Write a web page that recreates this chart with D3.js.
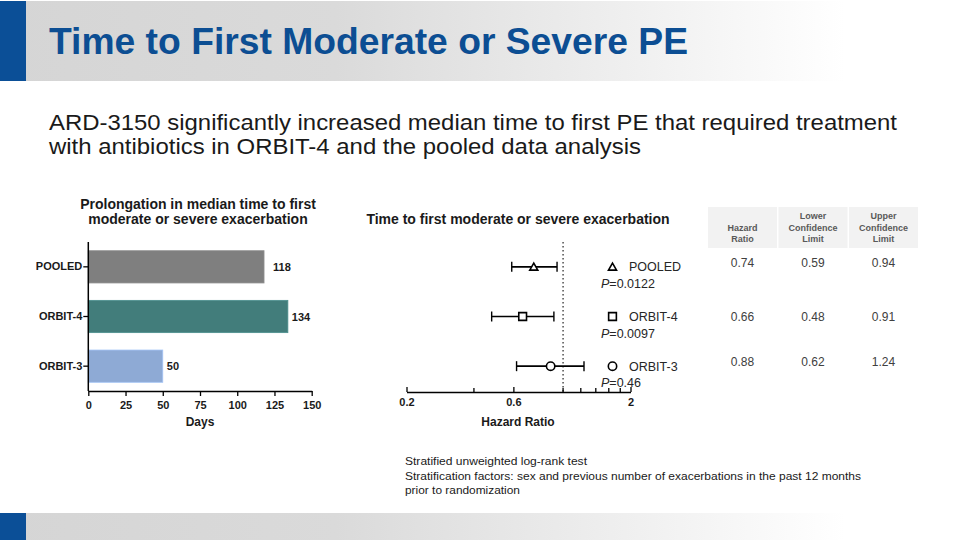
<!DOCTYPE html>
<html><head><meta charset="utf-8">
<script src="https://cdn.jsdelivr.net/npm/d3@7"></script>
<style>
html,body{margin:0;padding:0;background:#fff;}
text{font-family:"Liberation Sans",Arial,sans-serif;}
</style></head>
<body><svg id="c" width="960" height="540"></svg>
<script>
// ---- data ----
const titleText = "Time to First Moderate or Severe PE";
const subtitleLines = ["ARD-3150 significantly increased median time to first PE that required treatment",
  "with antibiotics in ORBIT-4 and the pooled data analysis"];
const categories = ["POOLED", "ORBIT-4", "ORBIT-3"];
const prolongDays = [118, 134, 50];
const barColors = ["#7f7f7f", "#427d7b", "#8eaad5"];
const dayTicks = [0, 25, 50, 75, 100, 125, 150];
const hazardRatio = [0.74, 0.66, 0.88];
const lowerCL = [0.59, 0.48, 0.62];
const upperCL = [0.94, 0.91, 1.24];
const pValues = ["0.0122", "0.0097", "0.46"];
const markers = ["triangle", "square", "circle"];
const hrMajorTicks = [0.2, 0.6, 2];
const hrMinorTicks = [0.4, 1, 1.2, 1.4, 1.6, 1.8];
const tableHeaders = [["Hazard", "Ratio"], ["Lower", "Confidence", "Limit"], ["Upper", "Confidence", "Limit"]];
const footnotes = ["Stratified unweighted log-rank test",
  "Stratification factors: sex and previous number of exacerbations in the past 12 months",
  "prior to randomization"];

const svg = d3.select("#c");
const defs = svg.append("defs");
const g1 = defs.append("linearGradient").attr("id","hdr").attr("x1","0").attr("x2","1").attr("y1","0").attr("y2","0");
g1.append("stop").attr("offset","0").attr("stop-color","#d5d5d5");
g1.append("stop").attr("offset","0.35").attr("stop-color","#dadada");
g1.append("stop").attr("offset","0.88").attr("stop-color","#ffffff");

// header band
svg.append("rect").attr("x",0).attr("y",1).attr("width",960).attr("height",80).attr("fill","url(#hdr)");
svg.append("rect").attr("x",0).attr("y",1).attr("width",26).attr("height",80).attr("fill","#0b4f97");
// footer band
svg.append("rect").attr("x",0).attr("y",513).attr("width",960).attr("height",27).attr("fill","url(#hdr)");
svg.append("rect").attr("x",0).attr("y",513).attr("width",26).attr("height",27).attr("fill","#0b4f97");

svg.append("text").attr("x",49).attr("y",54).attr("font-size",37).attr("font-weight","bold")
  .style("font-family",'"Liberation Sans Narrow","Liberation Sans",Arial,sans-serif')
  .attr("fill","#0c4e93").attr("textLength",639).attr("lengthAdjust","spacingAndGlyphs").text(titleText);

const subW = [848, 592];
subtitleLines.forEach((s,i)=>{
  svg.append("text").attr("x",49).attr("y",130+i*24).attr("font-size",21.5).attr("fill","#1a1a1a")
    .attr("textLength",subW[i]).attr("lengthAdjust","spacingAndGlyphs").text(s);
});

// ---- bar chart ----
const x = d3.scaleLinear().domain([0,150]).range([88.3,311.7]);
const y = d3.scaleBand().domain(categories).range([242,391]).paddingInner(0.35).paddingOuter(0.175);

svg.append("text").attr("x",198).attr("y",209).attr("text-anchor","middle").attr("font-size",14).attr("font-weight","bold").attr("fill","#1a1a1a").text("Prolongation in median time to first");
svg.append("text").attr("x",198).attr("y",224).attr("text-anchor","middle").attr("font-size",14).attr("font-weight","bold").attr("fill","#1a1a1a").text("moderate or severe exacerbation");

svg.append("g").selectAll("rect").data(categories).join("rect")
  .attr("x",x(0)).attr("y",d=>y(d)).attr("width",(d,i)=>x(prolongDays[i])-x(0)).attr("height",y.bandwidth())
  .attr("fill",(d,i)=>barColors[i]).attr("stroke",(d,i)=>d3.color(barColors[i]).brighter(0.4)).attr("stroke-width",0.8);

svg.append("g").selectAll("text").data(categories).join("text")
  .attr("x",(d,i)=>x(prolongDays[i])+ (i===0?9:4)).attr("y",d=>y(d)+y.bandwidth()/2+4)
  .attr("font-size",11).attr("font-weight","bold").attr("fill","#1a1a1a").text((d,i)=>prolongDays[i]);

const xa = svg.append("g").attr("transform","translate(0,391)")
  .call(d3.axisBottom(x).tickValues(dayTicks).tickSize(5).tickSizeOuter(0));
xa.select(".domain").attr("stroke","#000").attr("stroke-width",1.5);
xa.selectAll(".tick line").attr("stroke","#000").attr("stroke-width",1.3);
xa.selectAll(".tick text").attr("font-size",11).attr("font-weight","bold").attr("fill","#1a1a1a").attr("dy","0.9em").style("font-family",'"Liberation Sans",Arial,sans-serif');

const ya = svg.append("g").attr("transform","translate(88.3,0)")
  .call(d3.axisLeft(y).tickSize(5).tickSizeOuter(0));
ya.select(".domain").attr("stroke","#000").attr("stroke-width",1.5).attr("d","M0,242V391");
ya.selectAll(".tick line").attr("stroke","#000").attr("stroke-width",1.3);
ya.selectAll(".tick text").attr("font-size",11).attr("font-weight","bold").attr("fill","#1a1a1a").attr("x",-6).style("font-family",'"Liberation Sans",Arial,sans-serif');

svg.append("text").attr("x",200).attr("y",426).attr("text-anchor","middle").attr("font-size",12).attr("font-weight","bold").attr("fill","#1a1a1a").text("Days");

// ---- forest plot ----
const hx = d3.scaleLog().domain([0.2,2]).range([406.5,630.5]);
svg.append("text").attr("x",518).attr("y",224).attr("text-anchor","middle").attr("font-size",14).attr("font-weight","bold").attr("fill","#1a1a1a").text("Time to first moderate or severe exacerbation");

svg.append("line").attr("x1",hx(1)).attr("x2",hx(1)).attr("y1",242).attr("y2",392)
  .attr("stroke","#333").attr("stroke-width",1.3).attr("stroke-dasharray","1.5,2.5");

const ha = svg.append("g").attr("transform","translate(0,392)")
  .call(d3.axisBottom(hx).tickValues(hrMajorTicks).tickFormat(d3.format("")).tickSize(6).tickSizeOuter(0));
ha.select(".domain").attr("stroke","#000").attr("stroke-width",1.5);
ha.selectAll(".tick line").attr("stroke","#000").attr("stroke-width",1.3).attr("y1",-5).attr("y2",0);
ha.selectAll(".tick text").attr("font-size",11).attr("font-weight","bold").attr("fill","#1a1a1a").attr("y",4).attr("dy","0.9em").style("font-family",'"Liberation Sans",Arial,sans-serif');
ha.append("g").selectAll("line").data(hrMinorTicks).join("line")
  .attr("x1",d=>hx(d)).attr("x2",d=>hx(d)).attr("y1",-4).attr("y2",0).attr("stroke","#000").attr("stroke-width",1.3);
svg.append("text").attr("x",518).attr("y",426).attr("text-anchor","middle").attr("font-size",12).attr("font-weight","bold").attr("fill","#1a1a1a").text("Hazard Ratio");

const fg = svg.append("g");
categories.forEach((c,i)=>{
  const cy = y(c)+y.bandwidth()/2;
  fg.append("line").attr("x1",hx(lowerCL[i])).attr("x2",hx(upperCL[i])).attr("y1",cy).attr("y2",cy).attr("stroke","#000").attr("stroke-width",1.6);
  [lowerCL[i],upperCL[i]].forEach(v=>fg.append("line").attr("x1",hx(v)).attr("x2",hx(v)).attr("y1",cy-5).attr("y2",cy+5).attr("stroke","#000").attr("stroke-width",1.4));
  const sym = markers[i]==="triangle"? d3.symbolTriangle : markers[i]==="square"? d3.symbolSquare : d3.symbolCircle;
  const size = markers[i]==="triangle"? 28 : markers[i]==="square"? 60 : 55;
  fg.append("path").attr("d",d3.symbol(sym,size)()).attr("transform",`translate(${hx(hazardRatio[i])},${cy+(i===0?1:0)})`)
    .attr("fill","#fff").attr("stroke","#000").attr("stroke-width",1.6);
  // legend
  fg.append("path").attr("d",d3.symbol(sym,size)()).attr("transform",`translate(612.5,${cy+(i===0?1:0)})`)
    .attr("fill","#fff").attr("stroke","#000").attr("stroke-width",1.6);
  fg.append("text").attr("x",629).attr("y",cy+4.5).attr("font-size",12.5).attr("fill","#262626").text(c);
  const pt = fg.append("text").attr("x",601).attr("y",cy+21).attr("font-size",12.5).attr("fill","#262626");
  pt.append("tspan").attr("font-style","italic").text("P");
  pt.append("tspan").text("="+pValues[i]);
});

// ---- table ----
const colX = [708, 778.5, 849];
const colW = 69;
const tg = svg.append("g");
tableHeaders.forEach((h,j)=>{
  tg.append("rect").attr("x",colX[j]).attr("y",207).attr("width",colW).attr("height",41).attr("fill","#f2f2f2");
  h.forEach((t,k)=>{
    tg.append("text").attr("x",colX[j]+colW/2).attr("y",245 - (h.length-1-k)*11.5 - 3)
      .attr("text-anchor","middle").attr("font-size",9).attr("font-weight","bold").attr("fill","#595959").text(t);
  });
});
const tableRowsY = [267, 321, 366];
[hazardRatio, lowerCL, upperCL].forEach((col,j)=>{
  col.forEach((v,i)=>{
    tg.append("text").attr("x",colX[j]+colW/2).attr("y",tableRowsY[i]).attr("text-anchor","middle")
      .attr("font-size",12).attr("fill","#404040").text(v.toFixed(2));
  });
});

// ---- footnotes ----
const footW = [182, 456, 115];
footnotes.forEach((f,i)=>{
  svg.append("text").attr("x",405).attr("y",465+i*14.5).attr("font-size",11.5).attr("fill","#1a1a1a")
    .attr("textLength",footW[i]).attr("lengthAdjust","spacingAndGlyphs").text(f);
});
</script></body></html>
